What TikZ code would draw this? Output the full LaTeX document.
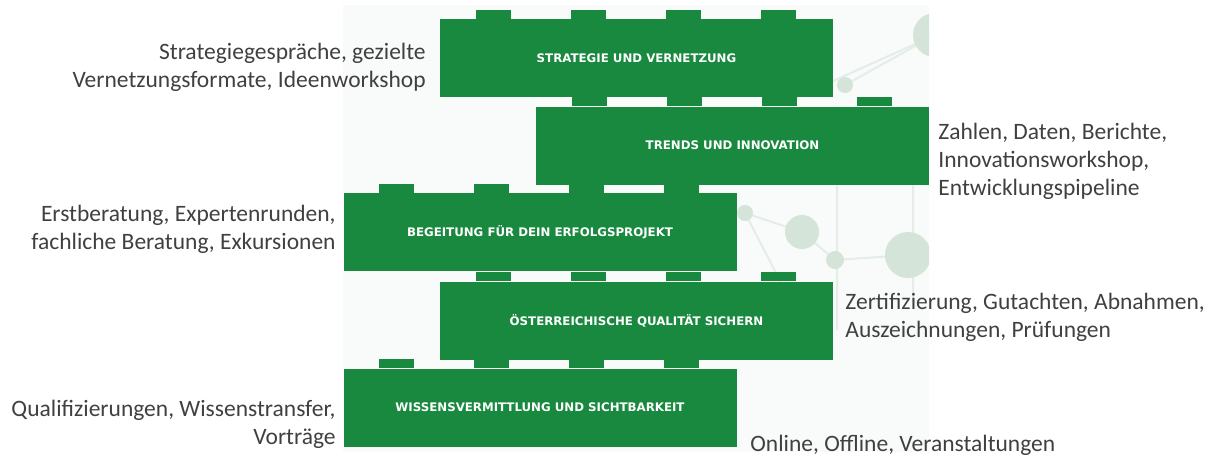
\documentclass[tikz,border=0pt]{standalone}
\usepackage{fontspec}
\setmainfont{Carlito}
\newfontfamily\brickfont{DejaVu Sans}
\usepackage{tikz}
\usetikzlibrary{calc}

\definecolor{brickgreen}{RGB}{24,137,62}
\definecolor{labelgray}{RGB}{64,64,64}
\definecolor{netdot}{RGB}{212,228,216}
\definecolor{netline}{RGB}{228,237,231}
\definecolor{panelbg}{RGB}{248,251,249}

\tikzset{
  brick/.style={fill=brickgreen, inner sep=0pt, minimum width=196.5pt, minimum height=39pt,
    text=white, font=\brickfont\bfseries\fontsize{5.9}{7}\selectfont},
  sidelabel/.style={text=labelgray, inner sep=0pt, font=\fontsize{11.75}{14}\selectfont},
}

\begin{document}
\begin{tikzpicture}[x=0.5pt, y=-0.5pt]
\useasboundingbox (0,0) rectangle (1225,456);

% Background panel with faint network
\fill[panelbg] (343,5) rectangle (929,452);
\begin{scope}
  \clip (343,5) rectangle (929,452);
  \draw[netline, line width=1pt] (845,85) -- (935,35) (780,105) -- (935,35)
    (745,213) -- (802,232) -- (835,260) -- (908,255)
    (745,213) -- (790,300) (837,175) -- (837,330) (913,150) -- (913,300);
  \fill[netdot] (935,35) circle (22);
  \fill[netdot] (845,85) circle (8);
  \fill[netdot] (745,213) circle (8);
  \fill[netdot] (802,232) circle (17);
  \fill[netdot] (835,260) circle (9);
  \fill[netdot] (908,255) circle (23);
\end{scope}

% Bricks
\node[brick] (strategie) at (636.5,58) {STRATEGIE UND VERNETZUNG};
\node[brick] (trends) at (732.5,145.5) {TRENDS UND INNOVATION};
\node[brick] (begleitung) at (540,232) {BEGEITUNG FÜR DEIN ERFOLGSPROJEKT};
\node[brick] (qualitaet) at (636.5,320.5) {ÖSTERREICHISCHE QUALITÄT SICHERN};
\node[brick] (wissen) at (540,407.5) {WISSENSVERMITTLUNG UND SICHTBARKEIT};

% Studs on top of each brick
\foreach \b in {strategie,trends,begleitung,qualitaet,wissen}
  \foreach \i in {0,...,3}
    \fill[brickgreen] ($(\b.north west)+(36+95*\i,0)$) rectangle ++(35,-9);

% Side labels
\node[sidelabel, anchor=east, align=right] (strategie-text) at (426,67)
  {Strategiegespräche, gezielte\\Vernetzungsformate, Ideenworkshop};
\node[sidelabel, anchor=west, align=left] (trends-text) at (938,161)
  {Zahlen, Daten, Berichte,\\Innovationsworkshop,\\Entwicklungspipeline};
\node[sidelabel, anchor=east, align=right] (begleitung-text) at (336,229)
  {Erstberatung, Expertenrunden,\\fachliche Beratung, Exkursionen};
\node[sidelabel, anchor=west, align=left] (qualitaet-text) at (845,317)
  {Zertifizierung, Gutachten, Abnahmen,\\Auszeichnungen, Prüfungen};
\node[sidelabel, anchor=east, align=right] (wissen-text) at (336,424)
  {Qualifizierungen, Wissenstransfer,\\Vorträge};
\node[sidelabel, anchor=base west] (online-text) at (750,451)
  {Online, Offline, Veranstaltungen};

\end{tikzpicture}
\end{document}
